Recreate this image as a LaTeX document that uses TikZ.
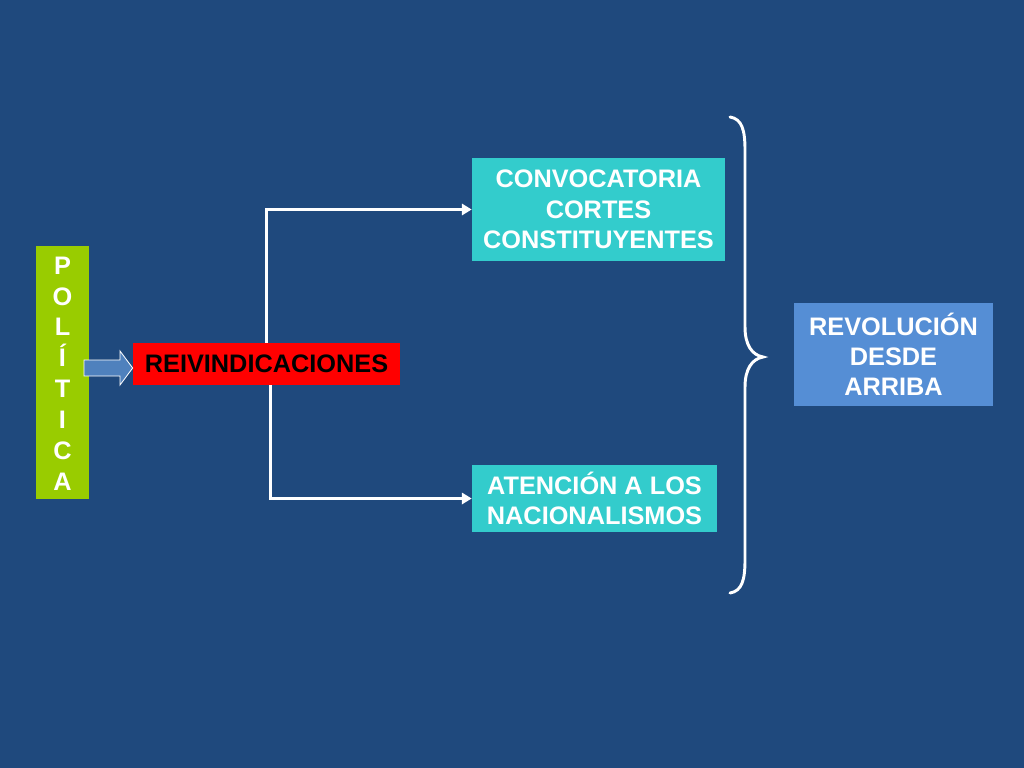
\documentclass[tikz,border=0pt]{standalone}
\usepackage{fontspec}
\setmainfont{Liberation Sans}
\usetikzlibrary{arrows.meta}
\definecolor{fondo}{HTML}{1F497D}
\definecolor{verde}{HTML}{99CC00}
\definecolor{turq}{HTML}{33CCCC}
\definecolor{azul}{HTML}{558ED5}
\definecolor{flecha}{HTML}{4F81BD}
\tikzset{
    caja/.style={rectangle,inner sep=0pt,align=center,font=\bfseries\fontsize{18}{21.5}\selectfont},
    enlace/.style={white,line width=2.1pt,-{Triangle[length=7pt,width=8pt]}}
}
\begin{document}
\begin{tikzpicture}[x=0.025cm,y=-0.025cm]
        \fill[fondo] (0,0) rectangle (1024,768);
        \node [caja,fill=verde,text=white,minimum width=1.325cm,minimum height=6.3cm,font=\bfseries\fontsize{18}{22}\selectfont] (pol) at (62.5,372.5) {\\[-8pt]P\\O\\L\\Í\\T\\I\\C\\A};
        \node [caja,fill=red,text=black,minimum width=6.675cm,minimum height=1.05cm] (reiv) at (266.5,364) {REIVINDICACIONES};
        \node [caja,fill=turq,text=white,minimum width=6.325cm,minimum height=2.575cm] (conv) at (598.5,209.5) {CONVOCATORIA\\CORTES\\CONSTITUYENTES};
        \node [caja,fill=turq,text=white,minimum width=6.125cm,minimum height=1.675cm] (aten) at (594.5,498.5) {ATENCIÓN A LOS\\NACIONALISMOS};
        \node [caja,fill=azul,text=white,minimum width=4.95cm,minimum height=2.55cm] (rev) at (893.5,354.5) {REVOLUCIÓN\\DESDE\\ARRIBA};
        \draw [fill=flecha,draw=white,line width=0.6pt] (84,360)--(120,360)--(120,351)--(reiv.west|-0,368)--(120,385)--(120,376)--(84,376)--cycle;
        \draw [enlace] (reiv.north) |- (conv.west);
        \draw [enlace] ([xshift=0.09cm]reiv.south) |- (aten.west);
        \draw [white,line width=2.1pt,line cap=round] (730,117) .. controls (742,119) and (745,130) .. (745,150) -- (745,327) .. controls (745,345) and (752,355) .. (763,357) .. controls (752,359) and (745,369) .. (745,387) -- (745,560) .. controls (745,580) and (742,591) .. (730,593);
    \end{tikzpicture}
\end{document}
